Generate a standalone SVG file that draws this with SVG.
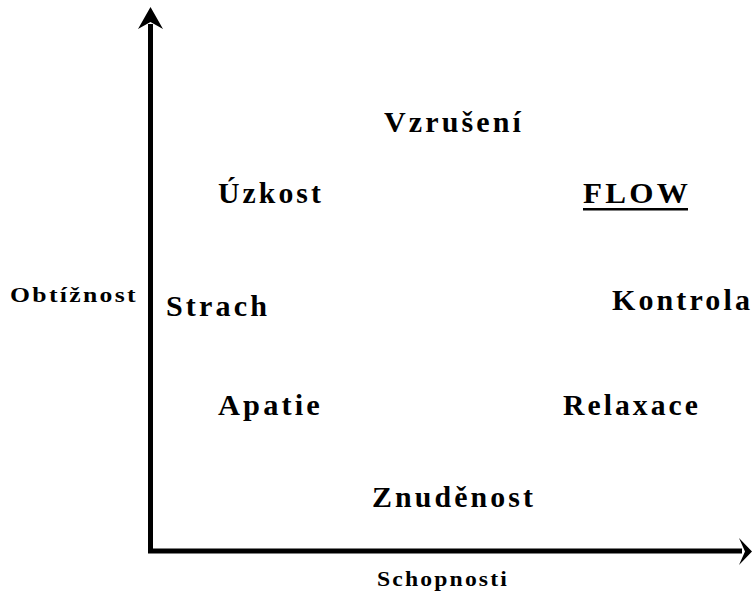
<svg xmlns="http://www.w3.org/2000/svg" width="752" height="594" viewBox="0 0 752 594">
  <style>
    .axis { stroke: #000; stroke-width: 5; fill: none; }
    .head { fill: #000; stroke: none; }
    .lbl { font-family: "Liberation Serif", "Times New Roman", serif; font-weight: bold; font-size: 29px; letter-spacing: 3px; fill: #000; }
    .ax-lbl { font-family: "Liberation Serif", "Times New Roman", serif; font-weight: bold; font-size: 22px; letter-spacing: 2px; fill: #000; }
  </style>
  <rect width="752" height="594" fill="#fff"/>

  <g id="axes">
    <path class="axis" d="M150.5 24 V551 H742"/>
    <!-- swept-back arrowheads -->
    <path class="head" d="M150.5 7 L163 29 L150.5 22 L138 29 Z"/>
    <path class="head" d="M752 551.5 L739 565 L745 551.5 L739 538 Z"/>
  </g>

  <g id="axis-labels">
    <text class="ax-lbl" x="10" y="302" textLength="128" lengthAdjust="spacingAndGlyphs">Obtížnost</text>
    <text class="ax-lbl" x="377" y="586" textLength="132" lengthAdjust="spacingAndGlyphs">Schopnosti</text>
  </g>

  <g id="vzruseni"><text class="lbl" x="384" y="132" textLength="140" lengthAdjust="spacingAndGlyphs">Vzrušení</text></g>
  <g id="uzkost"><text class="lbl" x="218" y="203" textLength="106" lengthAdjust="spacingAndGlyphs">Úzkost</text></g>
  <g id="flow">
    <text class="lbl" x="583" y="203" textLength="108" lengthAdjust="spacingAndGlyphs">FLOW</text>
    <rect x="583" y="208" width="105" height="2.5" fill="#000"/>
  </g>
  <g id="strach"><text class="lbl" x="166" y="316" textLength="104" lengthAdjust="spacingAndGlyphs">Strach</text></g>
  <g id="kontrola"><text class="lbl" x="612" y="310" textLength="141" lengthAdjust="spacingAndGlyphs">Kontrola</text></g>
  <g id="apatie"><text class="lbl" x="218" y="415" textLength="105" lengthAdjust="spacingAndGlyphs">Apatie</text></g>
  <g id="relaxace"><text class="lbl" x="563" y="415" textLength="138" lengthAdjust="spacingAndGlyphs">Relaxace</text></g>
  <g id="znudenost"><text class="lbl" x="372" y="507" textLength="164" lengthAdjust="spacingAndGlyphs">Znuděnost</text></g>
</svg>
